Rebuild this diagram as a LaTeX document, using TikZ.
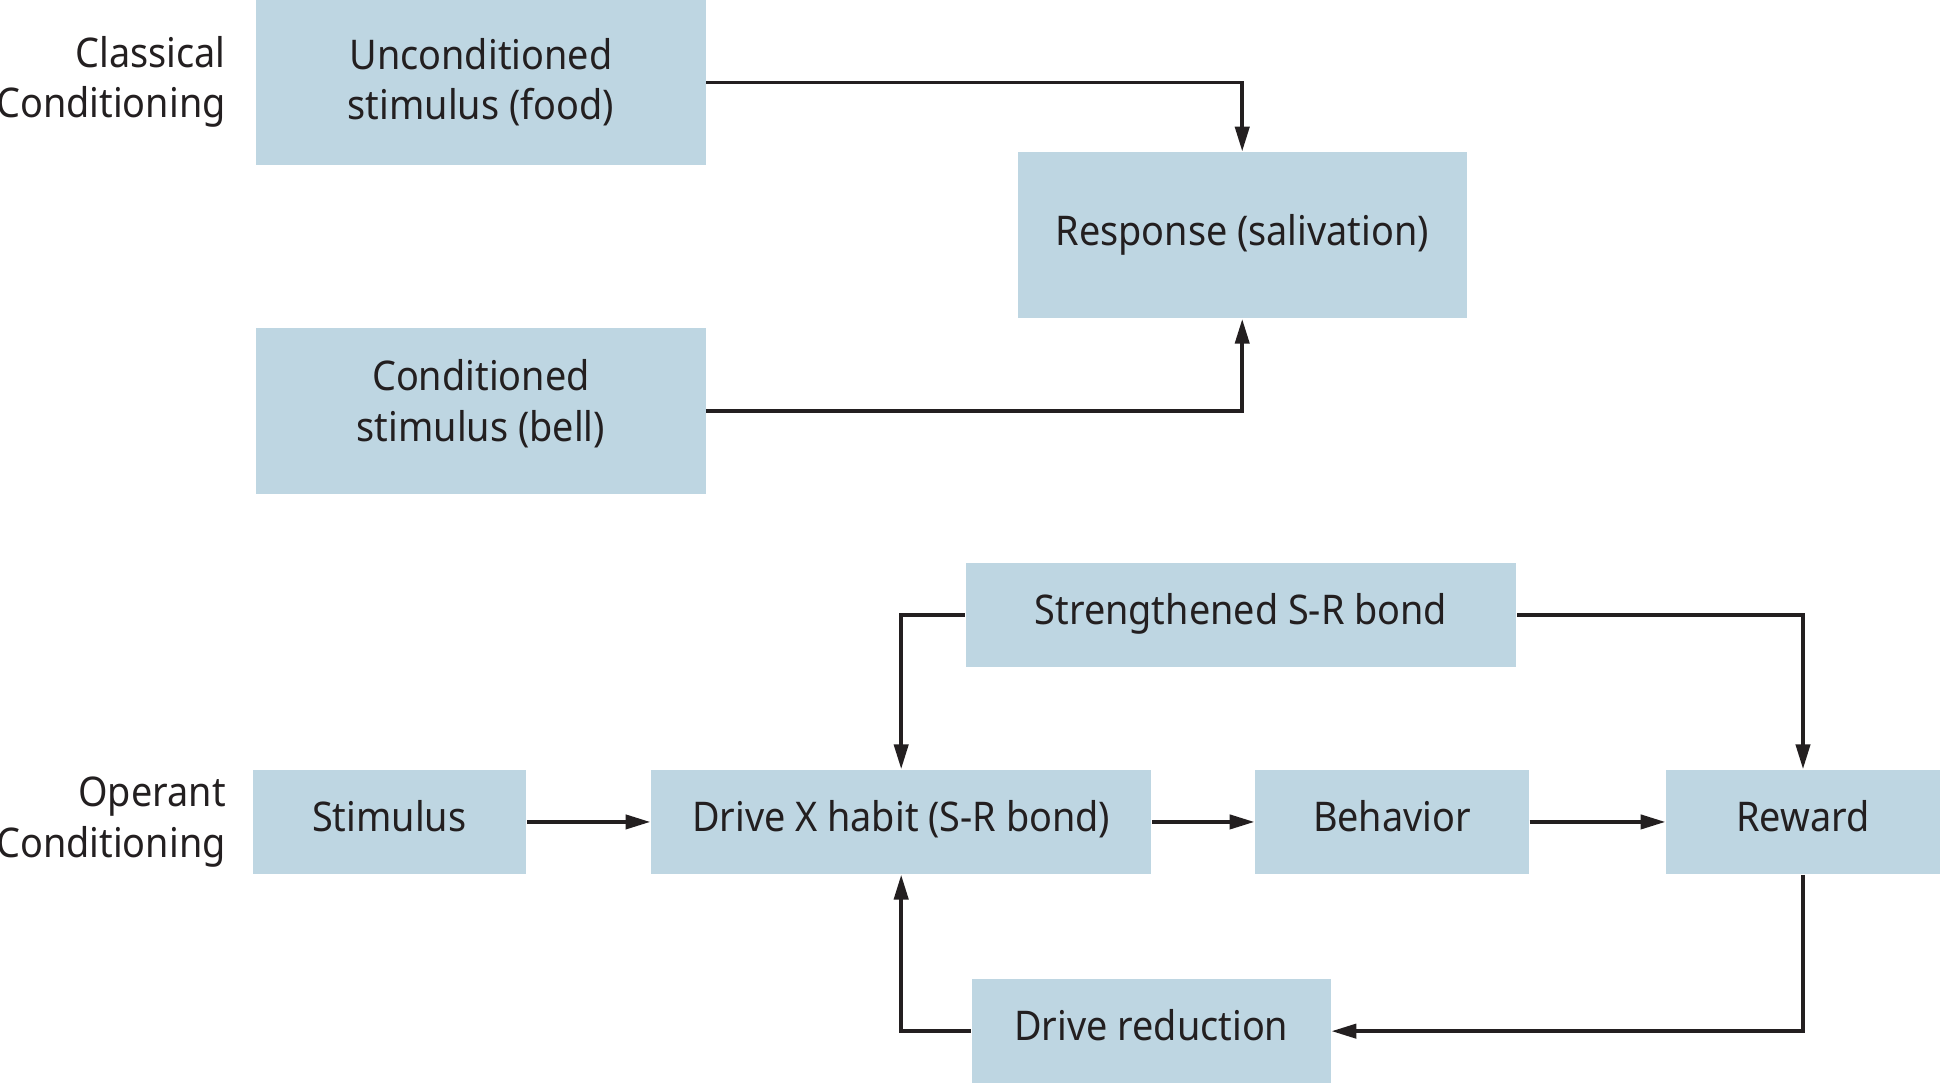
\documentclass[tikz,border=0pt]{standalone}
\usepackage{fontspec}
\setmainfont{Noto Sans}[FakeStretch=0.925]
\usetikzlibrary{arrows.meta}
\definecolor{boxblue}{RGB}{190,214,226}
\definecolor{ink}{RGB}{35,31,32}

\begin{document}
\begin{tikzpicture}[
		font=\fontsize{9.4}{11.6}\selectfont, text=ink,
		box/.style={fill=boxblue, align=center, inner sep=0pt},
		tall/.style={box, minimum height=1.34cm},
		flat/.style={box, minimum height=0.84cm, text height=0.25cm, text depth=0.1cm},
		arr/.style={draw=ink, line width=0.8pt, -{Triangle[length=2mm, width=1.15mm]}}
	]
			\useasboundingbox (0,0) rectangle (15.68,8.75);
			%
			\node[anchor=east, align=right, inner sep=0pt] (classical) at (1.83, 8.09) {Classical\\Conditioning};
			\node[anchor=east, align=right, inner sep=0pt] (operant)   at (1.83, 2.11) {Operant\\Conditioning};
			%
			\node[tall, minimum width=3.63cm] (ucs)   at (3.885, 8.085) {Unconditioned\\stimulus (food)};
			\node[tall, minimum width=3.63cm, text depth=0.17cm] (cs) at (3.885, 5.43) {Conditioned\\stimulus (bell)};
			\node[tall, minimum width=3.63cm] (resp)  at (10.035,6.85 ) {Response (salivation)};
			%
			\node[flat, minimum width=4.45cm] (srb)   at (10.025,3.78 ) {Strengthened S-R bond};
			\node[flat, minimum width=2.21cm] (stim)  at (3.145, 2.11 ) {Stimulus};
			\node[flat, minimum width=4.04cm] (drive) at (7.28,  2.11 ) {Drive X habit (S-R bond)};
			\node[flat, minimum width=2.21cm] (beh)   at (11.245,2.11 ) {Behavior};
			\node[flat, minimum width=2.21cm] (rew)   at (14.565,2.11 ) {Reward};
			\node[flat, minimum width=2.90cm] (dr)    at (9.30,  0.42 ) {Drive reduction};
			%
			\def\straight {stim/drive, drive/beh, beh/rew}  % same row
			\foreach \u\v in \straight
			{	\draw[arr] (\u) -- (\v);
			}
			\def\elbow {ucs/resp, cs/resp, srb/drive, srb/rew, dr/drive}  % across, then up or down
			\foreach \u\v in \elbow
			{	\draw[arr] (\u) -| (\v);
			}
			\draw[arr] (rew) |- (dr);
			%
		\end{tikzpicture}
\end{document}
